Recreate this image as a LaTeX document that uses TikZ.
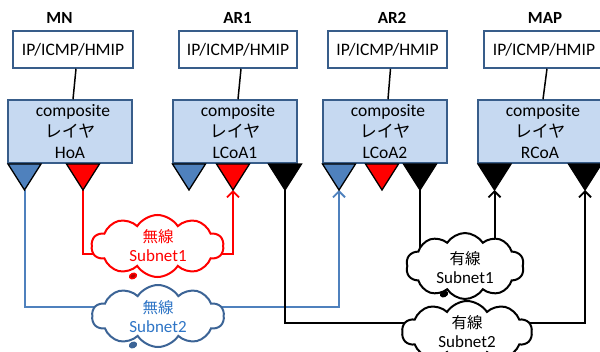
\documentclass[tikz,border=0pt]{standalone}
\usepackage{fontspec}
\setmainfont{Carlito}
\newfontfamily\jp{Noto Sans CJK JP}
\usetikzlibrary{shapes.symbols,shapes.geometric,arrows.meta,backgrounds,calc}
\definecolor{boxline}{HTML}{385D8A}
\definecolor{compfill}{HTML}{C6D9F1}
\definecolor{tblue}{HTML}{4F81BD}
\definecolor{cblue}{HTML}{3C6496}
\definecolor{tbluetext}{HTML}{2E75C6}
\definecolor{tred}{HTML}{FF0000}
\newcommand\mytri[3]{\filldraw[tri,fill=#3] (#2-16.5,164) -- (#2+16.5,164) -- (#2,190) -- cycle; \coordinate (#1) at (#2,190);}
\newcommand\jpl[1]{{\jp\fontsize{17}{21}\selectfont #1}}
\newcommand\jps[1]{{\jp\fontsize{15.5}{19}\selectfont #1}}
\begin{document}
\begin{tikzpicture}[x=1pt,y=-1pt,
  font=\fontsize{17.5}{21}\selectfont,
  hdr/.style={font=\fontsize{17}{20}\selectfont\bfseries},
  ipbox/.style={draw=boxline,line width=1.5pt,fill=white,minimum height=37pt,inner sep=0pt},
  compbox/.style={draw=boxline,line width=1.5pt,fill=compfill,minimum height=63pt,minimum width=124pt,inner sep=0pt,align=center},
  tri/.style={draw=black,line width=1.3pt,line join=miter},
  link/.style={line width=1.5pt},
  conn/.style={line width=2pt},
  arr/.style={-{Straight Barb[length=6pt,width=12pt,line width=1.8pt]}},
  cld/.style={cloud,cloud puffs=10,cloud puff arc=115,fill=white,line width=2pt,
    cloud ignores aspect,minimum width=132pt,minimum height=62pt,inner sep=0pt},
  ctext/.style={align=center,inner sep=0pt,font=\fontsize{17}{19}\selectfont},
  tail/.style={ellipse,line width=1.5pt,minimum width=7pt,minimum height=5pt,inner sep=0pt,rotate=25},
]
\useasboundingbox (0,0) rectangle (600,351);
\begin{scope}
\clip (0,0) rectangle (600,351);
% headers
\node[hdr] (hMN) at (59.5,18) {MN};
\node[hdr] (hAR1) at (237.5,18) {AR1};
\node[hdr] (hAR2) at (392,18) {AR2};
\node[hdr] (hMAP) at (545,18) {MAP};
% IP boxes
\node[ipbox,minimum width=120pt] (ipMN) at (73,49.5) {IP/ICMP/HMIP};
\node[ipbox,minimum width=118pt] (ipAR1) at (238,49.5) {IP/ICMP/HMIP};
\node[ipbox,minimum width=119pt] (ipAR2) at (387.5,49.5) {IP/ICMP/HMIP};
\node[ipbox,minimum width=120pt] (ipMAP) at (544,49.5) {IP/ICMP/HMIP};
% composite boxes
\node[compbox] (coMN) at (70,131.5) {\hspace*{6pt}composite\\\jpl{レイヤ}\\HoA};
\node[compbox] (coAR1) at (235,131.5) {\hspace*{6pt}composite\\\jpl{レイヤ}\\LCoA1};
\node[compbox] (coAR2) at (385,131.5) {\hspace*{6pt}composite\\\jpl{レイヤ}\\LCoA2};
\node[compbox] (coMAP) at (540,131.5) {\hspace*{6pt}composite\\\jpl{レイヤ}\\RCoA};
% links between boxes
\foreach \n in {MN,AR1,AR2,MAP}{
  \draw[link] ([xshift=3pt]ip\n.south) -- ([xshift=3pt]co\n.north);
}
% triangles
\mytri{mnB}{24.5}{tblue}
\mytri{mnR}{83}{tred}
\mytri{ar1B}{189}{tblue}
\mytri{ar1R}{233}{tred}
\mytri{ar1K}{285}{black}
\mytri{ar2B}{339}{tblue}
\mytri{ar2R}{382}{tred}
\mytri{ar2K}{420}{black}
\mytri{mapK1}{494.5}{black}
\mytri{mapK2}{585}{black}
% clouds
\node[cld,draw=tred] (rc) at (157.5,246) {};
\node[ctext,text=tred] (rcl) at (158,246) {\jps{無線}\\Subnet1};
\node[tail,draw=tred,fill=tred!70!black] (rct) at (133,276) {};
\node[cld,draw=cblue] (bc) at (158,316) {};
\node[ctext,text=tbluetext] (bcl) at (158,317) {\jps{無線}\\Subnet2};
\node[tail,draw=cblue,fill=cblue] (bct) at (133,345) {};
\node[cld,draw=black,minimum width=118pt,minimum height=66pt] (k1) at (465,266) {};
\node[ctext] (k1l) at (465,268) {\jps{有線}\\Subnet1};
\node[tail,draw=black,fill=black] (k1t) at (444,294) {};
\node[cld,draw=black,minimum width=130pt,minimum height=62pt] (k2) at (467,332) {};
\node[ctext] (k2l) at (467,332) {\jps{有線}\\Subnet2};
% connectors
\begin{pgfonlayer}{background}
\draw[conn,tred] (mnR) |- ($(rc.center)+(0,8)$);
\draw[conn,tred,arr] ($(rc.center)+(0,8)$) -| (ar1R);
\draw[conn,tblue] (mnB) |- ($(bc.center)+(0,-9)$);
\draw[conn,tblue,arr] ($(bc.center)+(0,-9)$) -| (ar2B);
\draw[conn] (ar2K) -- (ar2K |- k1.center);
\draw[conn,arr] (mapK1 |- k1.center) -- (mapK1);
\draw[conn] (ar1K) |- ($(k2.center)+(0,-9)$);
\draw[conn,arr] ($(k2.center)+(0,-9)$) -| (mapK2);
\end{pgfonlayer}
\end{scope}
\end{tikzpicture}
\end{document}
